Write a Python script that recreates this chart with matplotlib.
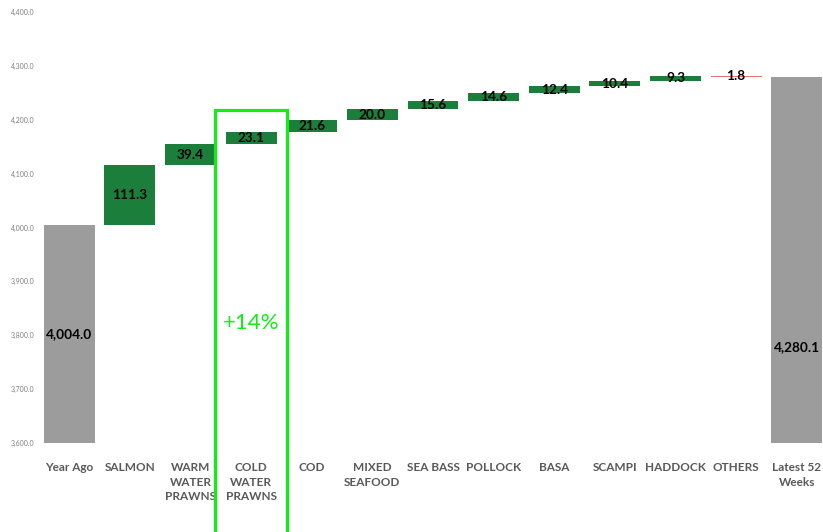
"""
Seafood waterfall: Year Ago -> Latest 52 Weeks
"""
import matplotlib
matplotlib.use('Agg')
import matplotlib.pyplot as plt
import matplotlib.patches as mpatches
from matplotlib.ticker import FuncFormatter
import numpy as np

plt.rcParams['font.family'] = ['Lato', 'DejaVu Sans']

categories = ['Year Ago', 'SALMON', 'WARM\nWATER\nPRAWNS', 'COLD\nWATER\nPRAWNS', 'COD',
              'MIXED\nSEAFOOD', 'SEA BASS', 'POLLOCK', 'BASA', 'SCAMPI', 'HADDOCK',
              'OTHERS', 'Latest 52\nWeeks']
start_total = 4004.0
changes = [111.3, 39.4, 23.1, 21.6, 20.0, 15.6, 14.6, 12.4, 10.4, 9.3, -1.8]
end_total = 4280.1
highlight_idx = 3
highlight_text = '+14%'

gray = '#9c9c9c'
green = '#1b7f3b'
red = '#e57373'
bright = '#11ee11'

fig = plt.figure(figsize=(8.23, 5.32), dpi=100, facecolor='white')
ax = fig.add_axes([39 / 823, 89 / 532, 788 / 823, 431 / 532])

# totals
x = np.arange(len(categories))
ax.bar(x[0], start_total - 3600, bottom=3600, width=0.84, color=gray)
ax.bar(x[-1], end_total - 3600, bottom=3600, width=0.84, color=gray)
ax.text(x[0], (start_total + 3600) / 2, f'{start_total:,.1f}', ha='center', va='center',
        fontsize=9.8, fontweight='bold', color='black')
ax.text(x[-1], 3778, f'{end_total:,.1f}', ha='center', va='center',
        fontsize=9.8, fontweight='bold', color='black')

# steps
level = start_total
for i, ch in enumerate(changes, start=1):
    bottom = level if ch >= 0 else level + ch
    ax.bar(x[i], abs(ch), bottom=bottom, width=0.84, color=green if ch >= 0 else red)
    ax.text(x[i], bottom + abs(ch) / 2, f'{abs(ch):.1f}', ha='center', va='center',
            fontsize=9.8, fontweight='bold', color='black')
    level += ch

# highlight box
rect = mpatches.Rectangle((highlight_idx - 0.59, 3300), 1.18, 4218 - 3300,
                          fill=False, edgecolor=bright, linewidth=2.3, clip_on=False, zorder=5)
ax.add_patch(rect)
ax.text(highlight_idx, 3823, highlight_text, ha='center', va='center',
        fontsize=16, color=bright)

ax.set_xlim(-0.5, len(categories) - 0.5)
ax.set_ylim(3600, 4400)
ax.set_yticks(np.arange(3600, 4401, 100))
ax.yaxis.set_major_formatter(FuncFormatter(lambda v, p: f'{v:,.1f}'))
ax.set_xticks(x)
ax.set_xticklabels(categories, fontsize=8.5, fontweight='bold', color='#595959',
                   linespacing=1.35, va='top')
ax.tick_params(axis='x', length=0, pad=14)
ax.tick_params(axis='y', length=0, pad=3, labelsize=5, labelcolor='#7f7f7f')
for s in ax.spines.values():
    s.set_visible(False)

fig.savefig('out.png', dpi=100, facecolor='white')
